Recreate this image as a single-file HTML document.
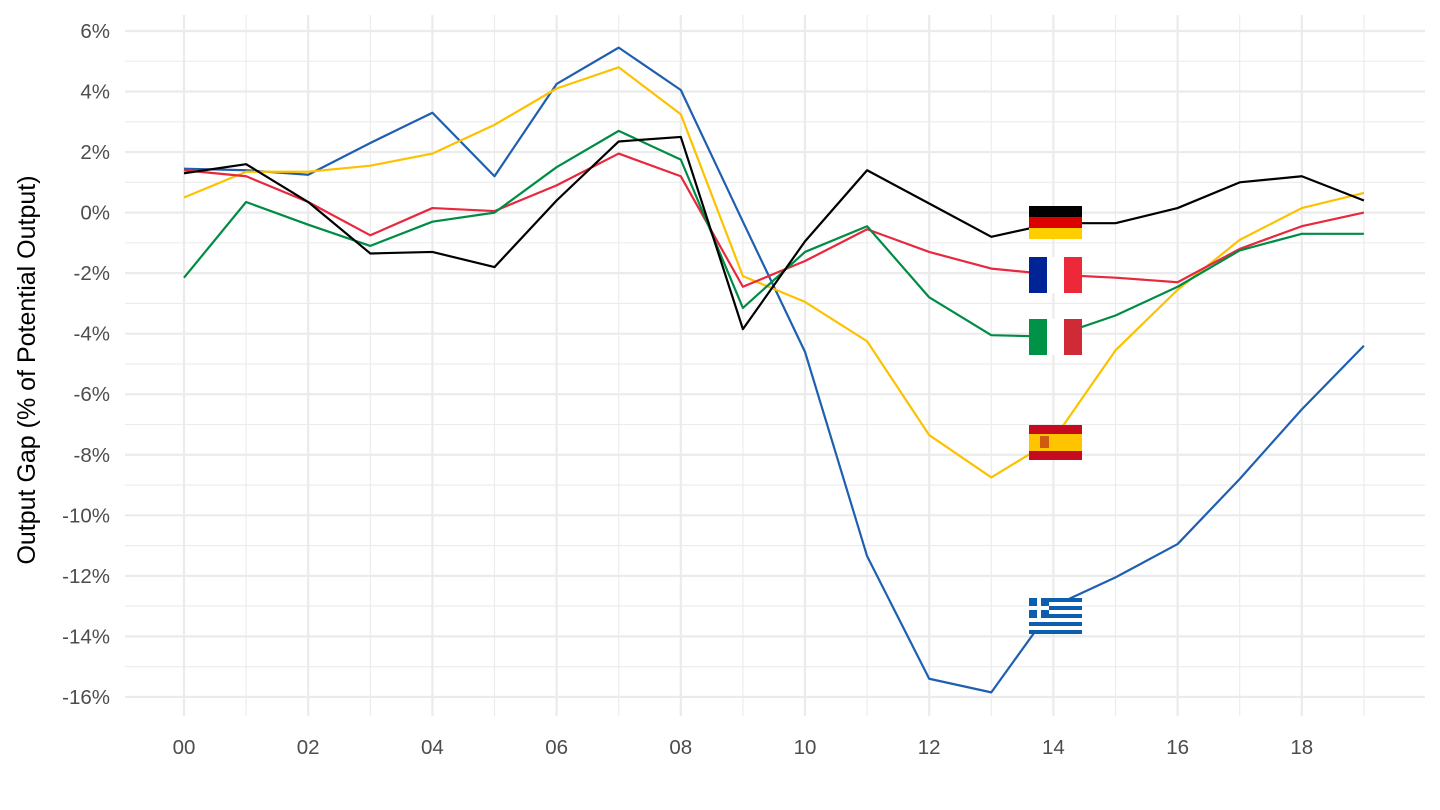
<!DOCTYPE html>
<html><head><meta charset="utf-8"><style>
html,body{margin:0;padding:0;background:#fff;}
svg{display:block;font-family:"Liberation Sans",sans-serif;}
</style></head><body>
<svg id="c" width="1440" height="810" xmlns="http://www.w3.org/2000/svg"></svg>
<script>
const svg=document.getElementById('c');
const X=i=>184+62.1*i, Y=v=>212.6-30.27*v;
let h='';
for(let v=-16;v<=6.5;v+=1){const y=Y(v);h+=`<line x1="125" x2="1425" y1="${y}" y2="${y}" stroke="#ebebeb" stroke-width="${v%2===0?2.2:1.1}"/>`;}
for(let i=0;i<=19;i++){const x=X(i);h+=`<line x1="${x}" x2="${x}" y1="15" y2="716" stroke="#ebebeb" stroke-width="${i%2===0?2.2:1.1}"/>`;}
for(let v=-16;v<=6;v+=2){h+=`<text x="110" y="${Y(v)+7}" text-anchor="end" font-size="20.5" fill="#4d4d4d">${v}%</text>`;}
for(let i=0;i<=18;i+=2){h+=`<text x="${X(i)}" y="754" text-anchor="middle" font-size="20.5" fill="#4d4d4d">${String(i).padStart(2,'0')}</text>`;}
h+=`<text transform="translate(35,370) rotate(-90)" text-anchor="middle" font-size="25" fill="#000">Output Gap (% of Potential Output)</text>`;
const S=[
['#1f5fb0',[1.45,1.4,1.25,2.3,3.3,1.2,4.25,5.45,4.05,-0.3,-4.6,-11.35,-15.4,-15.85,-13.0,-12.05,-10.95,-8.8,-6.5,-4.4]],
['#fcc200',[0.5,1.35,1.35,1.55,1.95,2.9,4.1,4.8,3.25,-2.1,-2.95,-4.25,-7.35,-8.75,-7.5,-4.55,-2.55,-0.9,0.15,0.65]],
['#e8283c',[1.4,1.2,0.35,-0.75,0.15,0.05,0.9,1.95,1.2,-2.45,-1.6,-0.55,-1.3,-1.85,-2.05,-2.15,-2.3,-1.2,-0.45,0.0]],
['#008c45',[-2.15,0.35,-0.4,-1.1,-0.3,0.0,1.5,2.7,1.75,-3.15,-1.3,-0.45,-2.8,-4.05,-4.1,-3.4,-2.45,-1.25,-0.7,-0.7]],
['#000000',[1.3,1.6,0.35,-1.35,-1.3,-1.8,0.4,2.35,2.5,-3.85,-0.95,1.4,0.3,-0.8,-0.35,-0.35,0.15,1.0,1.2,0.4]]
];
for(const [c,d] of S){h+=`<polyline fill="none" stroke="${c}" stroke-width="2.2" stroke-linejoin="round" points="${d.map((v,i)=>X(i)+','+Y(v)).join(' ')}"/>`;}
const fx=1029,fw=53;
h+=`<rect x="${fx}" y="206" width="${fw}" height="11" fill="#000"/><rect x="${fx}" y="217" width="${fw}" height="11" fill="#dd0000"/><rect x="${fx}" y="228" width="${fw}" height="11" fill="#ffce00"/>`;
h+=`<rect x="${fx}" y="257" width="18" height="36" fill="#002395"/><rect x="${fx+18}" y="257" width="17" height="36" fill="#fff"/><rect x="${fx+35}" y="257" width="18" height="36" fill="#ed2939"/>`;
h+=`<rect x="${fx}" y="319" width="18" height="36" fill="#009246"/><rect x="${fx+18}" y="319" width="17" height="36" fill="#fff"/><rect x="${fx+35}" y="319" width="18" height="36" fill="#ce2b37"/>`;
h+=`<rect x="${fx}" y="425" width="${fw}" height="35" fill="#c60b1e"/><rect x="${fx}" y="434" width="${fw}" height="17" fill="#ffc400"/><rect x="${fx+11}" y="436" width="9" height="12" fill="#ad1519" opacity="0.6"/>`;
let g=`<rect x="${fx}" y="598" width="${fw}" height="36" fill="#fff"/>`;
for(let k=0;k<9;k+=2)g+=`<rect x="${fx}" y="${598+k*4}" width="${fw}" height="4" fill="#0d5eaf"/>`;
g+=`<rect x="${fx}" y="598" width="20" height="20" fill="#0d5eaf"/><rect x="${fx+8}" y="598" width="4" height="20" fill="#fff"/><rect x="${fx}" y="606" width="20" height="4" fill="#fff"/>`;
h+=g;
svg.innerHTML=h;
</script>
</body></html>
